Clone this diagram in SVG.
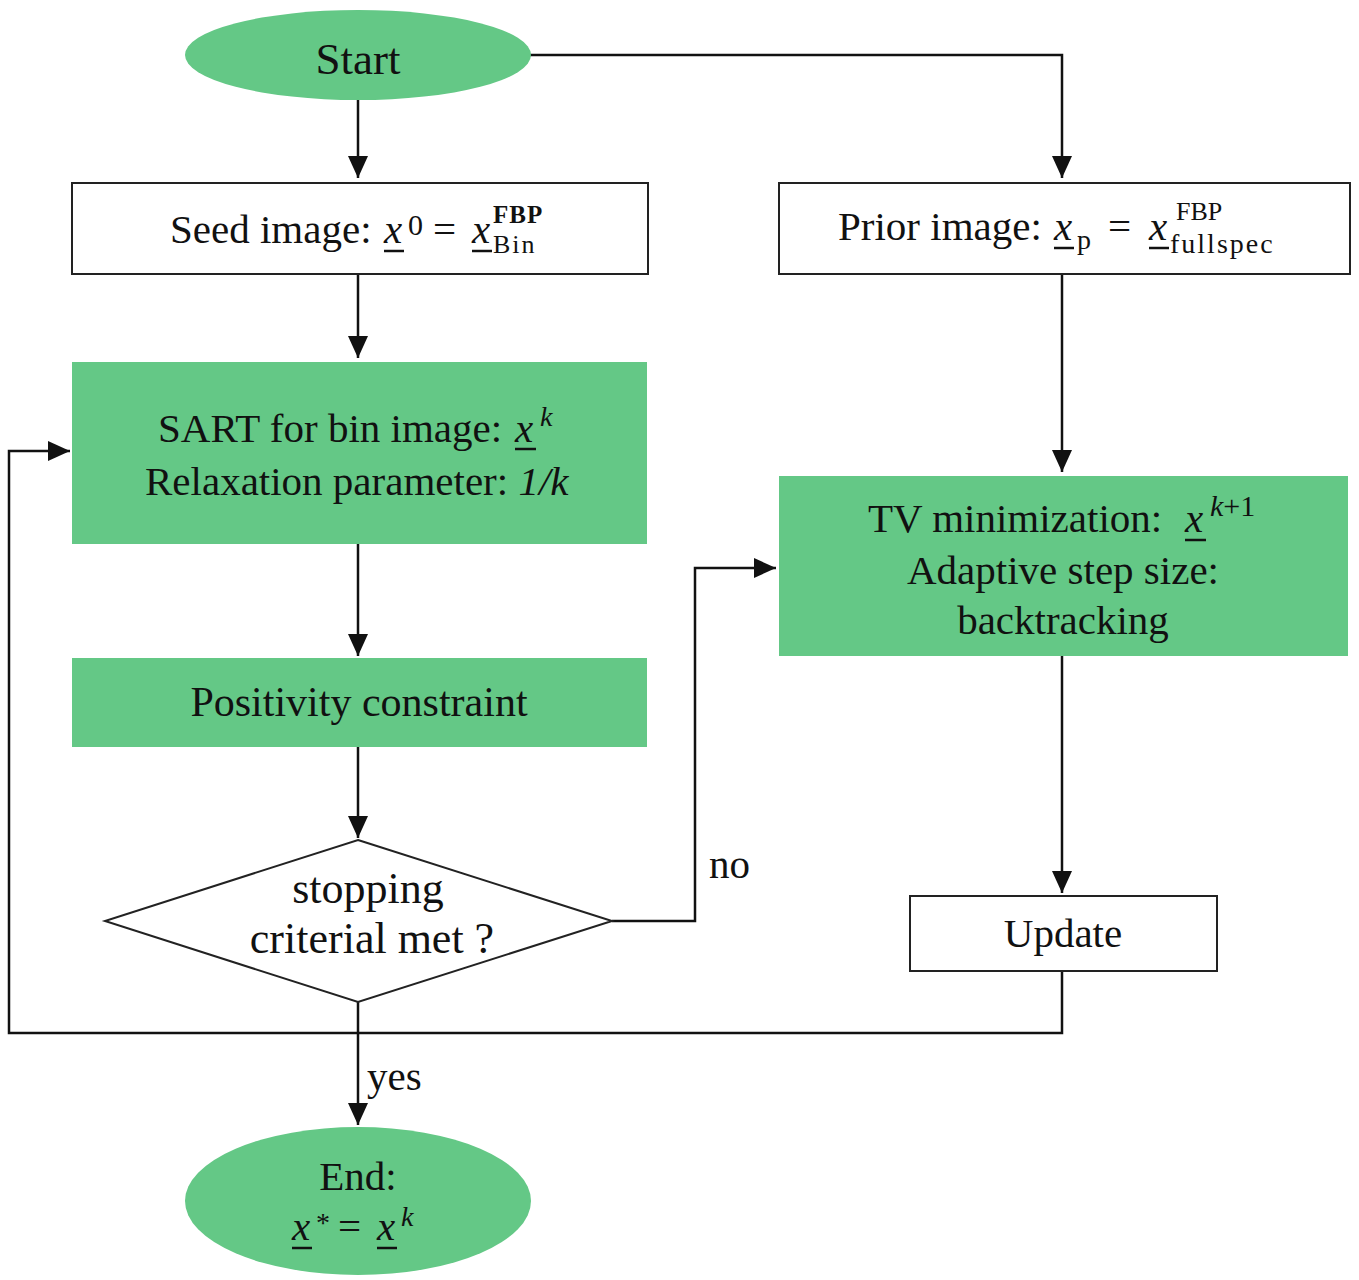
<svg xmlns="http://www.w3.org/2000/svg" width="1359" height="1280" viewBox="0 0 1359 1280">
<defs>
<style>
.t{font-family:"Liberation Serif","Times New Roman",serif;font-size:41px;fill:#111;}
.c{text-anchor:middle;}
.i{font-style:italic;}
.sup{font-family:"Liberation Serif",serif;font-size:28px;fill:#111;}
.b{font-weight:bold;}
.green{fill:#64C886;stroke:none;}
.white{fill:#fff;stroke:#222;stroke-width:2;}
.ln{fill:none;stroke:#111;stroke-width:2.5;}
.ul{stroke:#111;stroke-width:2.5;}
</style>
<marker id="ah" markerUnits="userSpaceOnUse" markerWidth="24" markerHeight="22" refX="22" refY="11" orient="auto">
<path d="M0,1 L22,11 L0,21 Z" fill="#111"/>
</marker>
</defs>

<g id="connectors">
<path class="ln" d="M358,100 V178" marker-end="url(#ah)"/>
<path class="ln" d="M530,55 H1062 V178" marker-end="url(#ah)"/>
<path class="ln" d="M358,274 V358" marker-end="url(#ah)"/>
<path class="ln" d="M358,544 V656" marker-end="url(#ah)"/>
<path class="ln" d="M358,747 V838" marker-end="url(#ah)"/>
<path class="ln" d="M612,921 H695 V568 H776" marker-end="url(#ah)"/>
<path class="ln" d="M358,1002 V1125" marker-end="url(#ah)"/>
<path class="ln" d="M1062,274 V472" marker-end="url(#ah)"/>
<path class="ln" d="M1062,656 V893" marker-end="url(#ah)"/>
<path class="ln" d="M1062,971 V1033 H9 V451 H70" marker-end="url(#ah)"/>
<text class="t" x="709" y="878">no</text>
<text class="t" x="367" y="1090">yes</text>
</g>

<g id="start">
<ellipse class="green" cx="358" cy="55" rx="173" ry="45"/>
<text class="t c" x="358" y="74" style="font-size:45px">Start</text>
</g>

<g id="seed">
<rect class="white" x="72" y="183" width="576" height="91"/>
<text class="t" x="170" y="243">Seed image:</text>
<text class="t i" x="384" y="243">x</text>
<line class="ul" x1="384" y1="251" x2="404" y2="251"/>
<text class="sup" x="408" y="235" style="font-size:30px">0</text>
<text class="t" x="433" y="243">=</text>
<text class="t i" x="472" y="243">x</text>
<line class="ul" x1="472" y1="251" x2="492" y2="251"/>
<text class="sup b" x="493" y="223" style="font-size:25px;letter-spacing:1px">FBP</text>
<text class="sup" x="493" y="253" style="font-size:26px;letter-spacing:2px">Bin</text>
</g>

<g id="prior">
<rect class="white" x="779" y="183" width="571" height="91"/>
<text class="t" x="838" y="240">Prior image:</text>
<text class="t i" x="1054" y="240">x</text>
<line class="ul" x1="1054" y1="248" x2="1074" y2="248"/>
<text class="sup" x="1077" y="249">p</text>
<text class="t" x="1108" y="240">=</text>
<text class="t i" x="1149" y="240">x</text>
<line class="ul" x1="1149" y1="248" x2="1169" y2="248"/>
<text class="sup" x="1176" y="220" style="font-size:26px">FBP</text>
<text class="sup" x="1170" y="253" style="font-size:28px;letter-spacing:2px">fullspec</text>
</g>

<g id="sart">
<rect class="green" x="72" y="362" width="575" height="182"/>
<text class="t" x="158" y="442">SART for bin image:</text>
<text class="t i" x="515" y="442">x</text>
<line class="ul" x1="515" y1="449" x2="536" y2="449"/>
<text class="sup i" x="540" y="426">k</text>
<text class="t" x="145" y="495">Relaxation parameter: <tspan class="i">1/k</tspan></text>
</g>

<g id="positivity">
<rect class="green" x="72" y="658" width="575" height="89"/>
<text class="t c" x="359" y="716" style="font-size:42px">Positivity constraint</text>
</g>

<g id="stopping">
<polygon class="white" points="358,840 612,921 358,1002 105,921"/>
<text class="t c" x="368" y="903" style="font-size:44px">stopping</text>
<text class="t c" x="372" y="953" style="font-size:44px">criterial met ?</text>
</g>

<g id="tv">
<rect class="green" x="779" y="476" width="569" height="180"/>
<text class="t" x="868" y="532">TV minimization:</text>
<text class="t i" x="1185" y="532">x</text>
<line class="ul" x1="1185" y1="540" x2="1206" y2="540"/>
<text class="sup i" x="1210" y="516" style="font-size:30px">k<tspan style="font-style:normal">+1</tspan></text>
<text class="t c" x="1063" y="584">Adaptive step size:</text>
<text class="t c" x="1063" y="634">backtracking</text>
</g>

<g id="update">
<rect class="white" x="910" y="896" width="307" height="75"/>
<text class="t c" x="1063" y="947">Update</text>
</g>

<g id="end">
<ellipse class="green" cx="358" cy="1201" rx="173" ry="74"/>
<text class="t c" x="358" y="1190">End:</text>
<text class="t i" x="292" y="1240">x</text>
<line class="ul" x1="292" y1="1248" x2="312" y2="1248"/>
<text class="sup" x="316" y="1232">*</text>
<text class="t" x="338" y="1240">=</text>
<text class="t i" x="377" y="1240">x</text>
<line class="ul" x1="377" y1="1248" x2="397" y2="1248"/>
<text class="sup i" x="401" y="1226">k</text>
</g>
</svg>
